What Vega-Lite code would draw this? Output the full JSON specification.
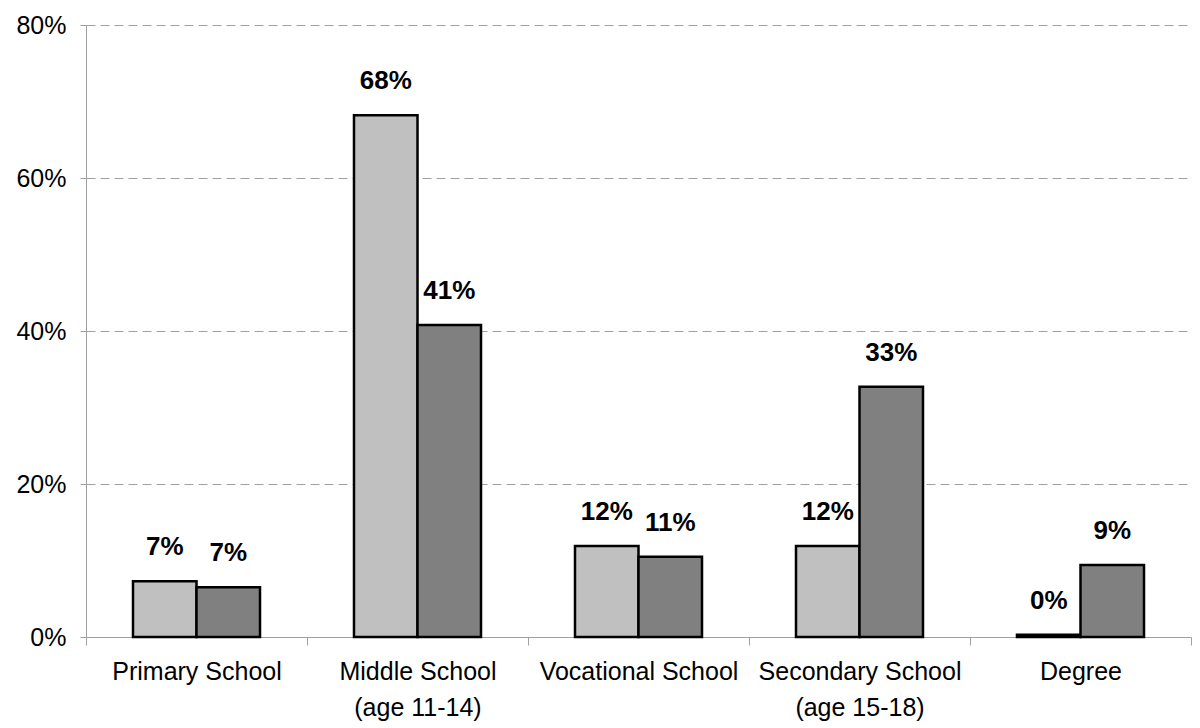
{
  "$schema": "https://vega.github.io/schema/vega-lite/v6.json",
  "autosize": "none",
  "width": 1105,
  "height": 612,
  "padding": {"left": 86, "top": 25, "right": 9, "bottom": 91},
  "background": "white",
  "config": {
    "font": "Liberation Sans",
    "view": {"stroke": null}
  },
  "data": {
    "values": [
      {"level": "Primary School", "series": "1", "value": 0.073},
      {"level": "Primary School", "series": "2", "value": 0.065},
      {"level": "Middle School|(age 11-14)", "series": "1", "value": 0.682},
      {"level": "Middle School|(age 11-14)", "series": "2", "value": 0.408},
      {"level": "Vocational School", "series": "1", "value": 0.119},
      {"level": "Vocational School", "series": "2", "value": 0.105},
      {"level": "Secondary School|(age 15-18)", "series": "1", "value": 0.119},
      {"level": "Secondary School|(age 15-18)", "series": "2", "value": 0.327},
      {"level": "Degree", "series": "1", "value": 0.003},
      {"level": "Degree", "series": "2", "value": 0.094}
    ]
  },
  "encoding": {
    "x": {
      "field": "level",
      "type": "nominal",
      "sort": null,
      "scale": {"paddingInner": 0, "paddingOuter": 0},
      "axis": {
        "title": null,
        "labelAngle": 0,
        "labelExpr": "split(datum.label, '|')",
        "labelFontSize": 25,
        "labelColor": "black",
        "labelLineHeight": 36,
        "labelPadding": 14,
        "labelLimit": 400,
        "domainColor": "#a0a0a0",
        "tickColor": "#a0a0a0",
        "tickSize": 8,
        "tickBand": "extent",
        "grid": false
      }
    },
    "xOffset": {
      "field": "series",
      "type": "nominal",
      "scale": {"paddingInner": 0, "paddingOuter": 0.74}
    },
    "y": {
      "field": "value",
      "type": "quantitative",
      "scale": {"domain": [0, 0.8]},
      "axis": {
        "title": null,
        "format": ".0%",
        "values": [0, 0.2, 0.4, 0.6, 0.8],
        "labelFontSize": 25,
        "labelColor": "black",
        "labelPadding": 14,
        "tickSize": 6,
        "tickColor": "#a0a0a0",
        "domainColor": "#a0a0a0",
        "gridColor": "#a0a0a0",
        "gridDash": [9, 5],
        "gridWidth": 1
      }
    }
  },
  "layer": [
    {
      "mark": {"type": "bar", "stroke": "black", "strokeWidth": 2.5},
      "encoding": {
        "color": {
          "field": "series",
          "type": "nominal",
          "scale": {"domain": ["1", "2"], "range": ["#c0c0c0", "#808080"]},
          "legend": null
        }
      }
    },
    {
      "mark": {"type": "text", "baseline": "bottom", "dy": -21, "fontSize": 26, "fontWeight": "bold", "color": "black"},
      "encoding": {
        "text": {"field": "value", "type": "quantitative", "format": ".0%"}
      }
    }
  ]
}
